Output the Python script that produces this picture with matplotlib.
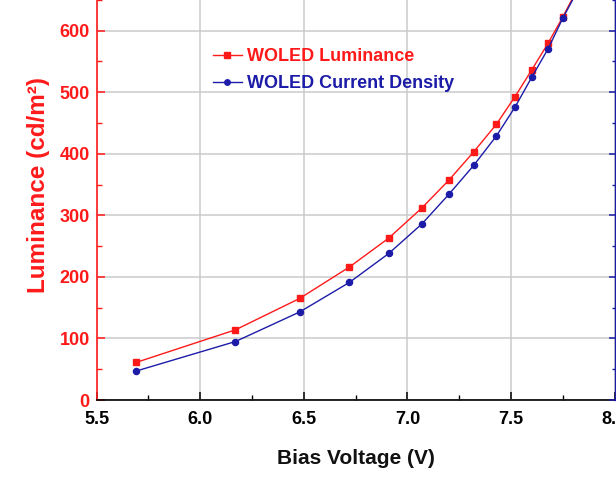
import matplotlib
matplotlib.use("Agg")
import matplotlib.pyplot as plt
import matplotlib.ticker as mticker

# ── Data ──────────────────────────────────────────────────────────────────────
voltage = [5.69, 6.17, 6.48, 6.72, 6.91, 7.07, 7.20, 7.32, 7.43, 7.52, 7.60, 7.68, 7.75, 7.82]
luminance = [61, 114, 165, 216, 263, 312, 357, 403, 448, 493, 536, 580, 622, 667]
current_density = [47, 95, 143, 191, 238, 286, 334, 381, 429, 476, 524, 571, 620, 664]

legend_labels = ["WOLED Luminance", "WOLED Current Density"]
x_label = "Bias Voltage (V)"
y_label = "Luminance (cd/m²)"
y_ticks = [0, 100, 200, 300, 400, 500, 600]

RED = "#FF1A1A"
BLUE = "#1C1CA8"

plt.rcParams.update({
    "font.family": ["Liberation Sans", "DejaVu Sans"],
    "font.weight": "bold",
})

fig = plt.figure(figsize=(6.16, 4.94), dpi=100)
# the original figure is cropped at the top: axes runs past the figure edge
ax = fig.add_axes([96.7 / 616, 94 / 494, (614.5 - 96.7) / 616, 430.9 / 494])

ax.plot(voltage, luminance, color=RED, lw=1.0, marker="s", ms=4.2,
        label=legend_labels[0])
ax.plot(voltage, current_density, color=BLUE, lw=1.0, marker="o", ms=4.4,
        label=legend_labels[1])

ax.set_xlim(5.5, 8.0)
ax.set_ylim(0, 700)
ax.xaxis.set_major_locator(mticker.MultipleLocator(0.5))
ax.xaxis.set_minor_locator(mticker.MultipleLocator(0.25))
ax.xaxis.set_major_formatter(mticker.FormatStrFormatter("%.1f"))
ax.yaxis.set_major_locator(mticker.FixedLocator(y_ticks))
ax.yaxis.set_minor_locator(mticker.MultipleLocator(50))

ax.grid(True, which="major", color="#CACACA", lw=1.1)
ax.set_axisbelow(True)

for side in ["top", "right"]:
    ax.spines[side].set_visible(False)
ax.spines["left"].set_color(RED)
ax.spines["left"].set_linewidth(1.2)
ax.spines["bottom"].set_color("black")
ax.spines["bottom"].set_linewidth(1.2)

ax.tick_params(axis="y", which="both", direction="in", colors=RED, labelsize=13, pad=5)
ax.tick_params(axis="y", which="major", length=6, width=1.1)
ax.tick_params(axis="y", which="minor", length=3.5, width=1.0)
ax.tick_params(axis="x", which="both", direction="in", colors="black", labelsize=13, pad=8)
ax.tick_params(axis="x", which="major", length=6, width=1.1)
ax.tick_params(axis="x", which="minor", length=3.5, width=1.0)
for lbl in ax.get_xticklabels() + ax.get_yticklabels():
    lbl.set_fontweight("bold")

ax.set_xlabel(x_label, fontsize=15, fontweight="bold", color="#111111", labelpad=15)
ax.set_ylabel(y_label, fontsize=17.5, fontweight="bold", color=RED, labelpad=7)

# right-hand axis (its labels fall outside the cropped figure)
ax2 = ax.twinx()
ax2.set_ylim(0, 700)
ax2.yaxis.set_major_locator(mticker.FixedLocator(y_ticks))
ax2.yaxis.set_minor_locator(mticker.MultipleLocator(50))
for side in ["top", "left", "bottom"]:
    ax2.spines[side].set_visible(False)
ax2.spines["right"].set_color(BLUE)
ax2.spines["right"].set_linewidth(1.0)
ax2.tick_params(axis="y", which="both", direction="in", colors=BLUE, labelright=False)
ax2.tick_params(axis="y", which="major", length=4, width=1.1)
ax2.tick_params(axis="y", which="minor", length=2.5, width=1.0)

leg = ax.legend(loc="upper left", bbox_to_anchor=((213 - 96.7) / 517.8, (400 - 48) / 430.9),
                frameon=False, fontsize=13, handlelength=1.6, handletextpad=0.3,
                labelspacing=0.55, borderpad=0, borderaxespad=0, labelcolor="linecolor",
                markerscale=0.9)
for t in leg.get_texts():
    t.set_fontweight("bold")

fig.savefig("out.png", dpi=100)
